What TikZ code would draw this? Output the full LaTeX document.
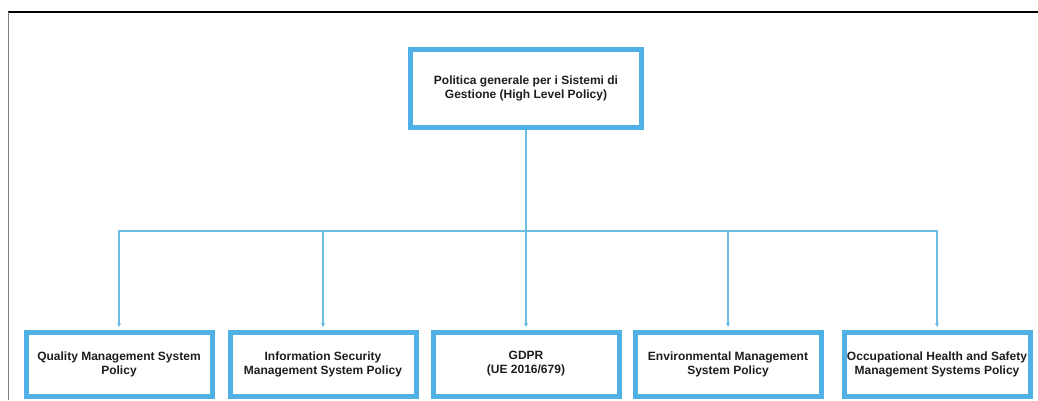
\documentclass[tikz,border=0pt]{standalone}
\usepackage{fontspec}
\setmainfont{Liberation Sans}
\usetikzlibrary{arrows.meta}
\definecolor{boxblue}{HTML}{4FB1E6}
\definecolor{linkblue}{HTML}{6BBDE3}
\definecolor{textgray}{HTML}{1E1E1E}

\tikzset{
  policy/.style={draw=boxblue, line width=5pt, fill=white, align=center,
    font=\fontsize{12}{14}\selectfont\bfseries, text=textgray, inner sep=0pt},
  link/.style={draw=linkblue, line width=1.4pt, -{Stealth[length=4pt,width=4pt]}}
}

\begin{document}
\begin{tikzpicture}[x=1pt,y=1pt]
  \useasboundingbox (0,0) rectangle (1038,-400);

  % Frame
  \draw[black, line width=1.2pt] (8.3,-12) -- (1038,-12);
  \draw[gray, line width=1.4pt] (8.3,-12) -- (8.3,-400);

  % Top box
  \node[policy, minimum width=231, minimum height=78] (high) at (526,-88.5)
    {Politica generale per i Sistemi di\\Gestione (High Level Policy)};

  % Bottom boxes
  \node[policy, minimum width=186, minimum height=64] (qms) at (119,-364)
    {Quality Management System\\Policy};
  \node[policy, minimum width=186, minimum height=64] (isms) at (323,-364)
    {Information Security\\Management System Policy};
  \node[policy, minimum width=186, minimum height=64] (gdpr) at (526,-364)
    {GDPR\\(UE 2016/679)};
  \node[policy, minimum width=186, minimum height=64] (ems) at (728,-364)
    {Environmental Management\\System Policy};
  \node[policy, minimum width=186, minimum height=64] (ohs) at (937,-364)
    {Occupational Health and Safety\\Management Systems Policy};

  % Connectors
  \coordinate (bus) at (526,-231);
  \draw[draw=linkblue, line width=1.4pt] (high.south) -- (bus);
  \foreach \n in {qms,isms,gdpr,ems,ohs}
    \draw[link] (bus) -| ([yshift=2.5pt]\n.north);

\end{tikzpicture}
\end{document}
